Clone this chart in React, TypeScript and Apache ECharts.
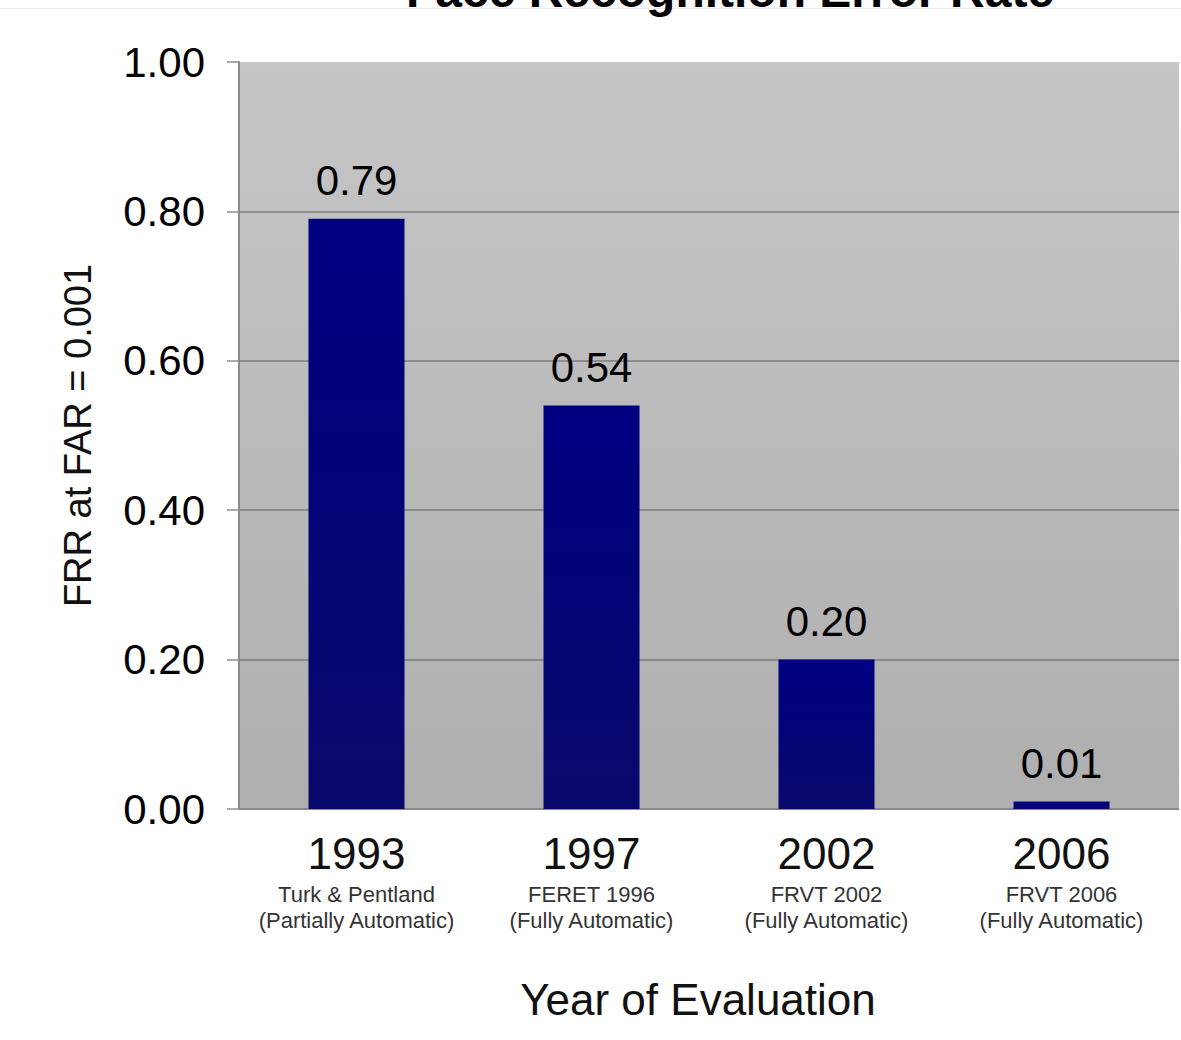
import React, { useEffect, useRef } from "react";
import * as echarts from "echarts";

const years = ["1993", "1997", "2002", "2006"];
const subLine1 = ["Turk & Pentland", "FERET 1996", "FRVT 2002", "FRVT 2006"];
const subLine2 = [
  "(Partially Automatic)",
  "(Fully Automatic)",
  "(Fully Automatic)",
  "(Fully Automatic)",
];
const frrValues = [0.79, 0.54, 0.2, 0.01];
const titleText = "Face Recognition Error Rate";
const yAxisName = "FRR at FAR = 0.001";
const xAxisName = "Year of Evaluation";

const FONT = "'Liberation Sans', Arial, Helvetica, sans-serif";

export default function App() {
  const ref = useRef<HTMLDivElement>(null);
  useEffect(() => {
    if (!ref.current) return;
    const chart = echarts.init(ref.current, null, { renderer: "svg" });
    const categories = years.map((y, i) => `${y}|${subLine1[i]}|${subLine2[i]}`);
    chart.setOption({
      animation: false,
      backgroundColor: "#ffffff",
      textStyle: { fontFamily: FONT },
      graphic: [
        {
          type: "line",
          shape: { x1: 0, y1: 8.5, x2: 1181, y2: 8.5 },
          style: { stroke: "#ebebeb", lineWidth: 1 },
          z: 0,
        },
        {
          type: "text",
          x: 730,
          y: -10,
          style: {
            text: titleText,
            fontFamily: FONT,
            fontSize: 48,
            fontWeight: "bold",
            fill: "#000000",
            align: "center",
            verticalAlign: "middle",
          },
          z: 10,
        },
      ],
      grid: {
        left: 239,
        right: 2,
        top: 62,
        bottom: 231,
        show: true,
        borderWidth: 0,
        backgroundColor: new echarts.graphic.LinearGradient(0, 0, 0, 1, [
          { offset: 0, color: "#c6c6c6" },
          { offset: 1, color: "#afafaf" },
        ]),
      },
      xAxis: {
        type: "category",
        data: categories,
        name: xAxisName,
        nameLocation: "middle",
        nameGap: 168,
        nameTextStyle: {
          fontFamily: FONT,
          fontSize: 44,
          color: "#111111",
          padding: [0, 22, 0, 0],
        },
        axisLine: { show: true, lineStyle: { color: "#8a8a8a", width: 1 } },
        axisTick: { show: false },
        axisLabel: {
          margin: 17,
          interval: 0,
          formatter: (v: string) => {
            const [y, a, b] = v.split("|");
            return `{y|${y}}\n{s|${a}}\n{s|${b}}`;
          },
          rich: {
            y: { fontFamily: FONT, fontSize: 44, lineHeight: 55, color: "#111111" },
            s: { fontFamily: FONT, fontSize: 22, lineHeight: 26, color: "#333333" },
          },
        },
      },
      yAxis: {
        type: "value",
        min: 0,
        max: 1,
        interval: 0.2,
        name: yAxisName,
        nameLocation: "middle",
        nameGap: 142,
        nameTextStyle: { fontFamily: FONT, fontSize: 38, color: "#111111" },
        axisLine: { show: true, lineStyle: { color: "#8c8c8c", width: 2 } },
        axisTick: { show: true, length: 12, lineStyle: { color: "#8c8c8c", width: 1.5 } },
        axisLabel: {
          margin: 34,
          fontFamily: FONT,
          fontSize: 42,
          color: "#000000",
          formatter: (v: number) => v.toFixed(2),
        },
        splitLine: {
          show: true,
          lineStyle: {
            color: ["#7c7c7c", "#7c7c7c", "#7c7c7c", "#7c7c7c", "#7c7c7c", "rgba(0,0,0,0)"],
            width: 1.5,
          },
        },
      },
      series: [
        {
          type: "bar",
          data: frrValues,
          barWidth: 96,
          itemStyle: {
            color: new echarts.graphic.LinearGradient(0, 0, 0, 1, [
              { offset: 0, color: "#000082" },
              { offset: 1, color: "#08086a" },
            ]),
          },
          label: {
            show: true,
            position: "top",
            distance: 17,
            fontFamily: FONT,
            fontSize: 42,
            color: "#000000",
            formatter: (p: any) => Number(p.value).toFixed(2),
          },
        },
      ],
    });
    return () => chart.dispose();
  }, []);
  return (
    <div
      ref={ref}
      style={{ position: "fixed", left: 0, top: 0, width: 1181, height: 1040 }}
    />
  );
}
